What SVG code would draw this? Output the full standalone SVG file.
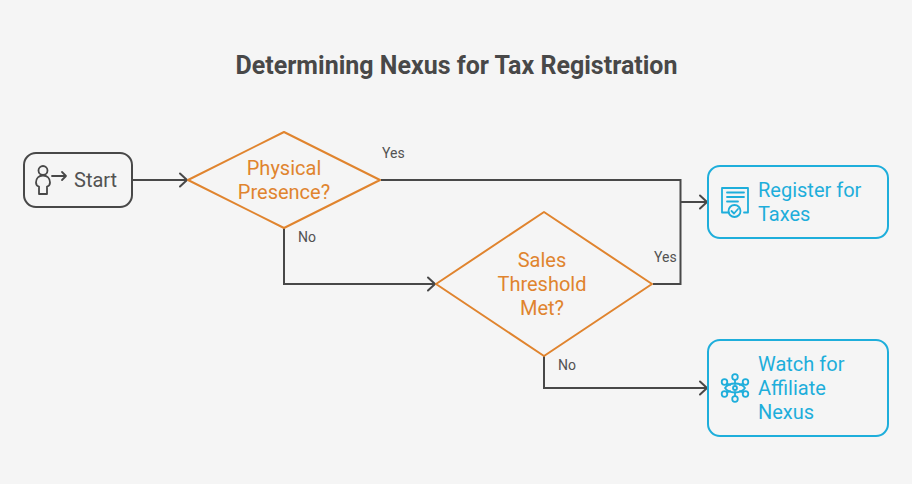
<svg xmlns="http://www.w3.org/2000/svg" width="912" height="484" viewBox="0 0 912 484">
<style>
text{font-family:Roboto,"Liberation Sans",sans-serif}
.n{font-size:20px;text-anchor:middle}
.s{text-anchor:start}
.l{font-size:14px;fill:#525252}
.o{fill:#e0842e}
.b{fill:#1eaedb}
.sb{fill:none;stroke:#1eaedb;stroke-width:2}
.i{fill:none;stroke:#1eaedb;stroke-width:1.800;stroke-linecap:round;stroke-linejoin:round}
.d{fill:none;stroke:#e0842e;stroke-width:2;stroke-linejoin:round}
.c{fill:none;stroke:#484848;stroke-width:2}
</style>
<defs>
<marker id="a" markerUnits="userSpaceOnUse" markerWidth="14" markerHeight="16" refX="11" refY="8" orient="auto"><path d="M4 1.500L11 8L4 14.500" fill="none" stroke="#484848" stroke-width="2" stroke-linecap="round"/></marker>
</defs>
<rect width="912" height="484" fill="#f5f5f5"/>
<text x="456.500" y="74" text-anchor="middle" font-size="25" font-weight="700" fill="#484848">Determining Nexus for Tax Registration</text>
<g id="connectors">
<path class="c" marker-end="url(#a)" d="M133 180H187"/>
<path class="c" d="M381 180H680.500V284H653"/>
<path class="c" marker-end="url(#a)" d="M680.500 202H707"/>
<path class="c" marker-end="url(#a)" d="M284 228V284H435"/>
<path class="c" marker-end="url(#a)" d="M544 356V388H707"/>
<text class="l" x="382" y="158">Yes</text>
<text class="l" x="298" y="242">No</text>
<text class="l" x="654" y="262">Yes</text>
<text class="l" x="558" y="370">No</text>
</g>
<g id="start">
<rect x="24" y="153" width="108" height="54" rx="12" fill="none" stroke="#484848" stroke-width="2"/>
<g fill="none" stroke="#484848" stroke-width="1.800" stroke-linecap="round" stroke-linejoin="round">
<circle cx="43" cy="170.500" r="4.500"/>
<path d="M39 194V186.500C37 186 36 184.500 36 182.500C36 178 39 175.500 43 175.500C47 175.500 50 178 50 182.500C50 184.500 49 186 47 186.500V194Z"/>
<path d="M52 176H66M62 172L66 176L62 180"/>
</g>
<text x="74" y="187" font-size="20" fill="#525252">Start</text>
</g>
<g id="physical">
<path class="d" d="M284 132L380 180L284 228L188 180Z"/>
<text class="n o" x="284" y="175">Physical</text>
<text class="n o" x="284" y="199">Presence?</text>
</g>
<g id="sales">
<path class="d" d="M544 212L652 284L544 356L436 284Z"/>
<text class="n o" x="542" y="267">Sales</text>
<text class="n o" x="542" y="291">Threshold</text>
<text class="n o" x="542" y="315">Met?</text>
</g>
<g id="register">
<rect class="sb" x="708" y="166" width="180" height="72" rx="12"/>
<path class="i" d="M729 212.500H722V188H748V212.500H744"/>
<path class="i" d="M727 192.500H744M727 197H744M727 201.500H738"/>
<circle class="i" cx="734.500" cy="211" r="6"/>
<path class="i" d="M731.500 211L734 213.500L738 209"/>
<text class="n b s" x="758" y="197">Register for</text>
<text class="n b s" x="758" y="221">Taxes</text>
</g>
<g id="watch">
<rect class="sb" x="708" y="340" width="180" height="96" rx="12"/>
<g class="i">
<path d="M725 388C729 382 741 382 745 388C741 394 729 394 725 388Z"/>
<circle cx="735" cy="388" r="2"/>
<circle cx="735" cy="377" r="2.800"/><circle cx="735" cy="399" r="2.800"/>
<circle cx="724.500" cy="382" r="2.800"/><circle cx="745.500" cy="382" r="2.800"/>
<circle cx="724.500" cy="394" r="2.800"/><circle cx="745.500" cy="394" r="2.800"/>
<path d="M735 380V384M735 392V396M727 383.500L730 385M743 383.500L740 385M727 392.500L730 391M743 392.500L740 391"/>
</g>
<text class="n b s" x="758" y="371">Watch for</text>
<text class="n b s" x="758" y="395">Affiliate</text>
<text class="n b s" x="758" y="419">Nexus</text>
</g>
</svg>
